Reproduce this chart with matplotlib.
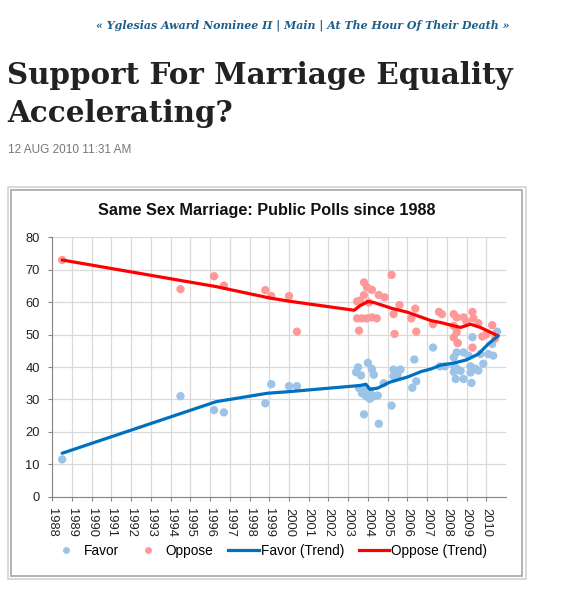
import matplotlib.pyplot as plt
from matplotlib.patches import Rectangle
from matplotlib.lines import Line2D

plt.rcParams['font.family'] = ['Liberation Sans', 'DejaVu Sans']

# poll data (year, percent)
favor_year = [1988.5, 1994.5, 1996.2, 1996.7, 1998.8, 1999.1, 2000.0, 2000.4,
              2003.4, 2003.5, 2003.65, 2004.0, 2004.2, 2004.3, 2003.55, 2003.75,
              2003.7, 2004.1, 2003.9, 2004.3, 2004.5, 2004.1, 2004.55, 2003.8,
              2004.8, 2005.2, 2005.3, 2005.65, 2005.3, 2005.5, 2006.35, 2006.45,
              2006.25, 2007.3, 2007.65, 2007.9, 2008.35, 2008.5, 2009.2, 2009.45,
              2008.35, 2008.7, 2009.2, 2009.6, 2008.45, 2008.85, 2009.25, 2009.85,
              2010.1, 2010.3, 2010.55, 2009.3, 2008.55, 2008.5, 2008.85, 2008.35,
              2009.1, 2009.7, 2010.35]
favor_pct = [11.5, 31.0, 26.7, 26.0, 28.8, 34.7, 34.1, 34.1,
             38.4, 39.9, 37.4, 41.3, 39.4, 37.6, 33.5, 33.2,
             31.9, 32.7, 31.0, 31.0, 31.2, 30.2, 22.5, 25.4,
             35.0, 28.1, 39.2, 39.2, 37.2, 37.6, 42.3, 35.6,
             33.6, 46.0, 40.2, 40.2, 40.5, 39.5, 40.2, 39.5,
             38.5, 38.8, 38.3, 38.9, 36.3, 36.3, 35.1, 41.0,
             44.0, 47.1, 50.9, 49.2, 47.4, 44.5, 44.5, 43.0,
             43.5, 44.0, 43.5]

oppose_year = [1988.5, 1994.5, 1996.2, 1996.7, 1998.8, 1999.1, 2000.0, 2000.4,
               2003.45, 2003.6, 2003.8, 2003.8, 2003.95, 2004.2, 2004.55, 2004.85,
               2004.05, 2005.2, 2005.6, 2005.3, 2003.45, 2003.7, 2003.95, 2004.2,
               2004.45, 2006.2, 2006.4, 2003.55, 2005.35, 2006.45, 2007.3, 2007.6,
               2007.75, 2008.35, 2008.5, 2008.85, 2009.3, 2009.35, 2008.35, 2008.5,
               2008.35, 2009.8, 2010.3, 2010.45, 2009.3, 2008.55, 2009.0, 2009.6,
               2010.0]
oppose_pct = [73.0, 64.0, 68.0, 65.1, 63.7, 61.9, 61.9, 50.9,
              60.2, 60.5, 62.2, 66.1, 64.6, 63.8, 62.2, 61.5,
              59.9, 68.4, 59.1, 56.3, 55.0, 55.0, 55.0, 55.3,
              55.0, 55.0, 58.0, 51.2, 50.2, 50.9, 53.2, 57.0,
              56.3, 56.3, 55.3, 55.3, 57.0, 55.0, 52.7, 50.7,
              49.1, 49.4, 52.9, 48.8, 46.0, 47.4, 54.0, 53.5,
              50.0]

# trend lines
favor_trend_year = [1988.5, 1996.3, 1998.9, 2000.0, 2003.6, 2003.9, 2004.1, 2004.5,
                    2005.1, 2006.0, 2006.7, 2007.2, 2007.7, 2008.35, 2009.0, 2009.6,
                    2010.1, 2010.6]
favor_trend = [13.4, 29.3, 31.9, 32.4, 34.3, 34.7, 33.1, 33.5,
               35.3, 36.9, 38.6, 39.4, 40.6, 41.2, 42.2, 44.0,
               47.1, 49.6]
oppose_trend_year = [1988.5, 1996.3, 1999.0, 2000.0, 2003.3, 2003.6, 2004.0, 2004.3,
                     2005.2, 2006.0, 2007.2, 2007.7, 2008.35, 2008.7, 2009.2, 2009.7,
                     2010.6]
oppose_trend = [73.0, 64.8, 61.3, 60.3, 57.5, 58.9, 60.2, 59.9,
                58.1, 56.9, 54.3, 53.7, 52.7, 52.2, 53.2, 52.2,
                49.6]

years = list(range(1988, 2011))

W, H = 576, 592
fig = plt.figure(figsize=(W / 100, H / 100), dpi=100)


def fx(px):
    return px / W


def fy(py):
    return 1 - py / H


# page header
fig.text(fx(302.5), fy(25), '« Yglesias Award Nominee II | Main | At The Hour Of Their Death »',
         ha='center', va='center', family='DejaVu Serif', style='italic',
         weight='bold', fontsize=7.9, color='#1f5f8b')
fig.text(fx(7), fy(84), 'Support For Marriage Equality', ha='left', va='baseline',
         family='DejaVu Serif', weight='bold', fontsize=21.2, color='#222222')
fig.text(fx(7), fy(122), 'Accelerating?', ha='left', va='baseline',
         family='DejaVu Serif', weight='bold', fontsize=21.2, color='#222222')
fig.text(fx(8), fy(150), '12 AUG 2010 11:31 AM', ha='left', va='center',
         fontsize=8.5, color='#777777')

# chart frame
fig.patches.append(Rectangle((fx(7.5), fy(579)), (525.5 - 7.5) / W, (579 - 186.5) / H,
                             transform=fig.transFigure, fill=False,
                             edgecolor='#cfd4d9', lw=1.2))
fig.patches.append(Rectangle((fx(10.5), fy(575.5)), (522 - 10.5) / W, (575.5 - 189.5) / H,
                             transform=fig.transFigure, fill=False,
                             edgecolor='#a6a6a6', lw=1.2))

fig.text(fx(267), fy(211), 'Same Sex Marriage: Public Polls since 1988',
         ha='center', va='center', fontsize=11.7, weight='bold', color='#111111')

ax = fig.add_axes([fx(52.3), fy(496.7), (506 - 52.3) / W, (496.7 - 237.3) / H])

ax.scatter(favor_year, favor_pct, s=36, color='#9dc3e6', edgecolors='none', zorder=3)
ax.scatter(oppose_year, oppose_pct, s=36, color='#ff9999', edgecolors='none', zorder=3)
ax.plot(oppose_trend_year, oppose_trend, color='#ff0000', lw=2.3, zorder=4,
        solid_capstyle='round', solid_joinstyle='round')
ax.plot(favor_trend_year, favor_trend, color='#0070c0', lw=2.3, zorder=5,
        solid_capstyle='round', solid_joinstyle='round')

ax.set_xlim(1988, 2011)
ax.set_ylim(0, 80)
ax.set_xticks(years)
ax.set_xticklabels([str(y) for y in years], rotation=-90)
ax.set_yticks(range(0, 81, 10))
ax.grid(True, color='#d9d9d9', lw=0.9)
ax.set_axisbelow(True)
for side in ['top', 'right']:
    ax.spines[side].set_visible(False)
for side in ['left', 'bottom']:
    ax.spines[side].set_color('#868686')
ax.tick_params(axis='both', direction='out', length=3, color='#868686',
               labelsize=9.3, labelcolor='#222222')
ax.tick_params(axis='y', pad=6)
ax.tick_params(axis='x', pad=5)

handles = [
    Line2D([], [], marker='o', ls='none', markersize=5, color='#9dc3e6', mec='none'),
    Line2D([], [], marker='o', ls='none', markersize=5, color='#ff9999', mec='none'),
    Line2D([], [], color='#0070c0', lw=2.3),
    Line2D([], [], color='#ff0000', lw=2.3),
]
fig.legend(handles, ['Favor', 'Oppose', 'Favor (Trend)', 'Oppose (Trend)'],
           loc='center', bbox_to_anchor=(fx(269), fy(551)), ncol=4, frameon=False,
           fontsize=9.8, handlelength=2.27, handletextpad=0.15, columnspacing=1.05,
           borderpad=0.1)

fig.savefig('out.png', dpi=100)
